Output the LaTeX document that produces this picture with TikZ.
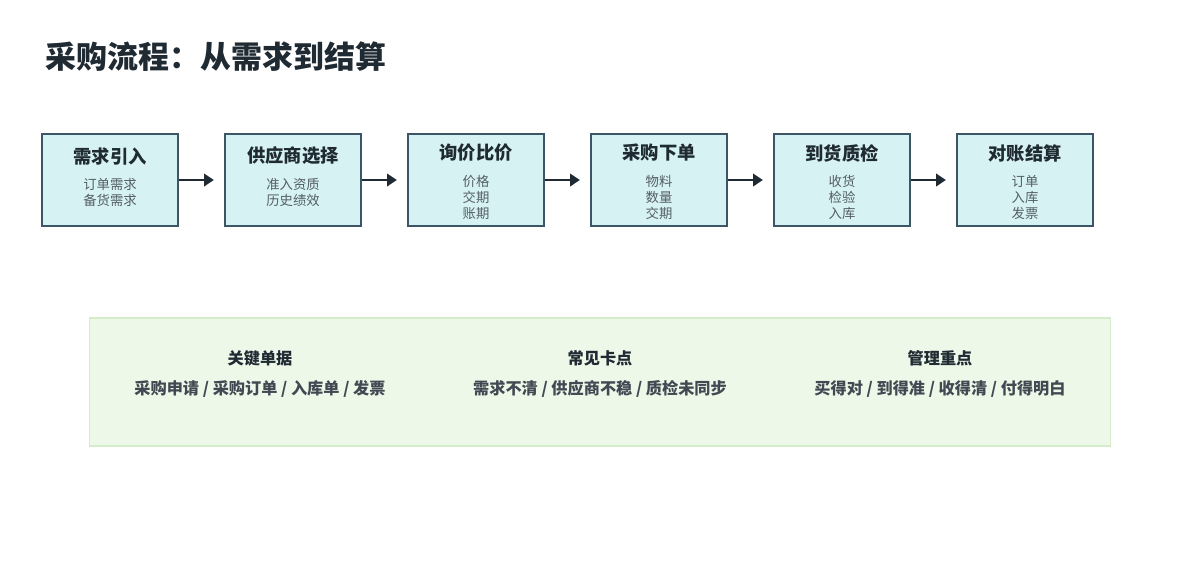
\documentclass[tikz,border=0pt]{standalone}
\usepackage{fontspec}
\setmainfont{Noto Sans CJK SC}
\usetikzlibrary{arrows.meta}
\definecolor{boxfill}{HTML}{D6F2F2}
\definecolor{boxline}{HTML}{3E5565}
\definecolor{ink}{HTML}{1F2A33}
\definecolor{subink}{HTML}{555E66}
\definecolor{panelfill}{HTML}{EEF8E9}
\definecolor{panelline}{HTML}{D3EDCB}
\begin{document}
\begin{tikzpicture}[x=0.025cm, y=-0.025cm,
  stage/.style={draw=boxline, line width=1.2pt, fill=boxfill, minimum width=3.4cm, minimum height=2.3cm, inner sep=0pt},
  stagetitle/.style={font=\fontsize{13}{15}\selectfont\bfseries, text=ink},
  stagesub/.style={font=\fontsize{9.5}{11.4}\selectfont, text=subink, align=center},
  flow/.style={-{Triangle[length=7pt,width=9pt]}, line width=1.3pt, draw=ink},
  head/.style={font=\fontsize{11.5}{13}\selectfont\bfseries, text=ink},
  item/.style={font=\fontsize{11.5}{13}\selectfont\bfseries, text=ink!85}]
\useasboundingbox (0,0) rectangle (1200,560);

% Title
\node[anchor=west, font=\fontsize{22}{26}\selectfont\bfseries, text=ink] (title) at (41,57) {采购流程：从需求到结算};

% Stages
\node[stage] (s1) at (110,180) {};
\node[stage] (s2) at (293,180) {};
\node[stage] (s3) at (476,180) {};
\node[stage] (s4) at (659,180) {};
\node[stage] (s5) at (842,180) {};
\node[stage] (s6) at (1025,180) {};

\node[stagetitle] (t1) at (110,156) {需求引入};
\node[stagetitle] (t2) at (293,156) {供应商选择};
\node[stagetitle] (t3) at (476,153) {询价比价};
\node[stagetitle] (t4) at (659,153) {采购下单};
\node[stagetitle] (t5) at (842,153) {到货质检};
\node[stagetitle] (t6) at (1025,153) {对账结算};

\node[stagesub] (d1) at (110,192) {订单需求\\备货需求};
\node[stagesub] (d2) at (293,192) {准入资质\\历史绩效};
\node[stagesub] (d3) at (476,197) {价格\\交期\\账期};
\node[stagesub] (d4) at (659,197) {物料\\数量\\交期};
\node[stagesub] (d5) at (842,197) {收货\\检验\\入库};
\node[stagesub] (d6) at (1025,197) {订单\\入库\\发票};

% Arrows
\draw[flow] (s1.east) -- ++(35,0);
\draw[flow] (s2.east) -- ++(35,0);
\draw[flow] (s3.east) -- ++(35,0);
\draw[flow] (s4.east) -- ++(35,0);
\draw[flow] (s5.east) -- ++(35,0);

% Summary panel
\node[draw=panelline, line width=0.8pt, fill=panelfill, minimum width=25.5cm, minimum height=3.2cm] (panel) at (600,382) {};
\node[head] (h1) at (260,358) {关键单据};
\node[head] (h2) at (600,358) {常见卡点};
\node[head] (h3) at (940,358) {管理重点};
\node[item] (i1) at (260,389) {采购申请 / 采购订单 / 入库单 / 发票};
\node[item] (i2) at (600,389) {需求不清 / 供应商不稳 / 质检未同步};
\node[item] (i3) at (940,389) {买得对 / 到得准 / 收得清 / 付得明白};
\end{tikzpicture}
\end{document}
